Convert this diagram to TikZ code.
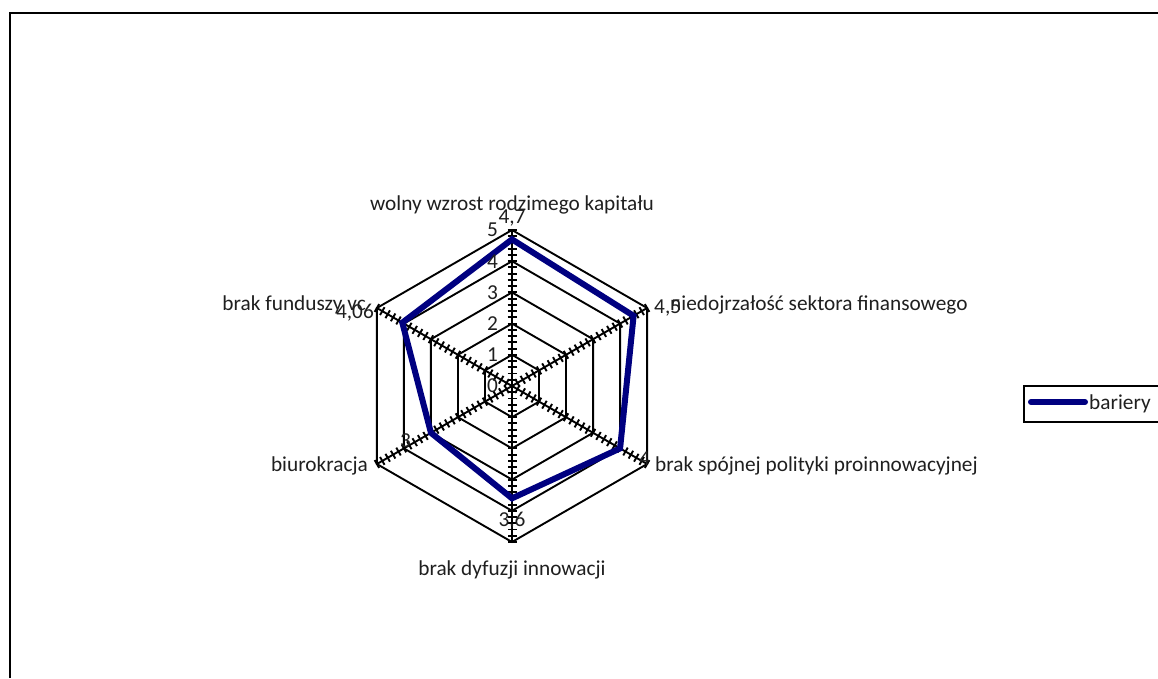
\documentclass[tikz,border=0pt]{standalone}
\usepackage{fontspec}
\setmainfont{Carlito}
\definecolor{seriesblue}{RGB}{0,0,128}
\begin{document}
\begin{tikzpicture}[x=1pt,y=1pt,
  gridline/.style={black, line width=1.9pt, line join=miter},
  axisline/.style={black, line width=1.9pt},
  tickmark/.style={black, line width=1.9pt},
  series/.style={draw=seriesblue, line width=6pt, line join=miter},
  lbl/.style={font=\fontsize{21.3}{24}\selectfont, inner sep=0pt, text=black!88},
]
\useasboundingbox (0,-678) rectangle (1158,0);
\coordinate (fbl) at (10,-678);
\coordinate (ftl) at (10,-13);
\coordinate (ftr) at (1158,-13);
\draw[line width=2.2pt] (fbl) -- (ftl) -- (ftr);
\begin{scope}[shift={(512,-386)}]
  \def\u{31.2}
  \coordinate (c) at (0,0);
  \foreach \r in {1,...,5}
    \draw[gridline] (90:\r*\u) -- (30:\r*\u) -- (-30:\r*\u) -- (-90:\r*\u) -- (-150:\r*\u) -- (150:\r*\u) -- cycle;
  \foreach \a in {90,30,-30,-90,-150,150} {
    \coordinate (ax\a) at (\a:5*\u);
    \draw[axisline] (c) -- (ax\a);
    \foreach \t in {1,...,25}
      \draw[tickmark] ([shift={(\a:\t*\u/5)}]{\a+90}:4.5) -- ([shift={(\a:\t*\u/5)}]{\a-90}:4.5);
  }
  \coordinate (p1) at (90:4.7*\u);
  \coordinate (p2) at (30:4.5*\u);
  \coordinate (p3) at (-30:4*\u);
  \coordinate (p4) at (-90:3.6*\u);
  \coordinate (p5) at (-150:3*\u);
  \coordinate (p6) at (150:4.06*\u);
  \draw[series] (p1) -- (p2) -- (p3) -- (p4) -- (p5) -- (p6) -- cycle;
  % scale labels
  \foreach \v in {0,...,5}
    \node[lbl, anchor=east] (s\v) at (-14,\v*\u) {\v};
\end{scope}
% data labels
\node[lbl] (d1) at (512,-218) {4,7};
\node[lbl, anchor=west] (d2) at (654,-308) {4,5};
\node[lbl, anchor=west] (d3) at (639,-459) {4};
\node[lbl] (d4) at (512,-521) {3,6};
\node[lbl, anchor=east] (d5) at (411,-441) {3};
\node[lbl, anchor=east] (d6) at (374,-313) {4,06};
% category labels
\node[lbl] (k1) at (512,-205) {wolny wzrost rodzimego kapitału};
\node[lbl, anchor=west] (k2) at (670,-305) {niedojrzałość sektora finansowego};
\node[lbl, anchor=west] (k3) at (655,-466) {brak spójnej polityki proinnowacyjnej};
\node[lbl] (k4) at (512,-570) {brak dyfuzji innowacji};
\node[lbl, anchor=east] (k5) at (368,-466) {biurokracja};
\node[lbl, anchor=east] (k6) at (366,-305) {brak funduszy vc};
% legend
\node[draw=black, line width=1.8pt, minimum width=140pt, minimum height=36pt, anchor=north west, inner sep=0pt] (leg) at (1023,-385) {};
\coordinate (la) at (1031,-402);
\coordinate (lb) at (1085,-402);
\draw[draw=seriesblue, line width=6pt, line cap=round] (la) -- (lb);
\node[lbl, anchor=west] (lt) at (1089,-404) {bariery};
\end{tikzpicture}
\end{document}
